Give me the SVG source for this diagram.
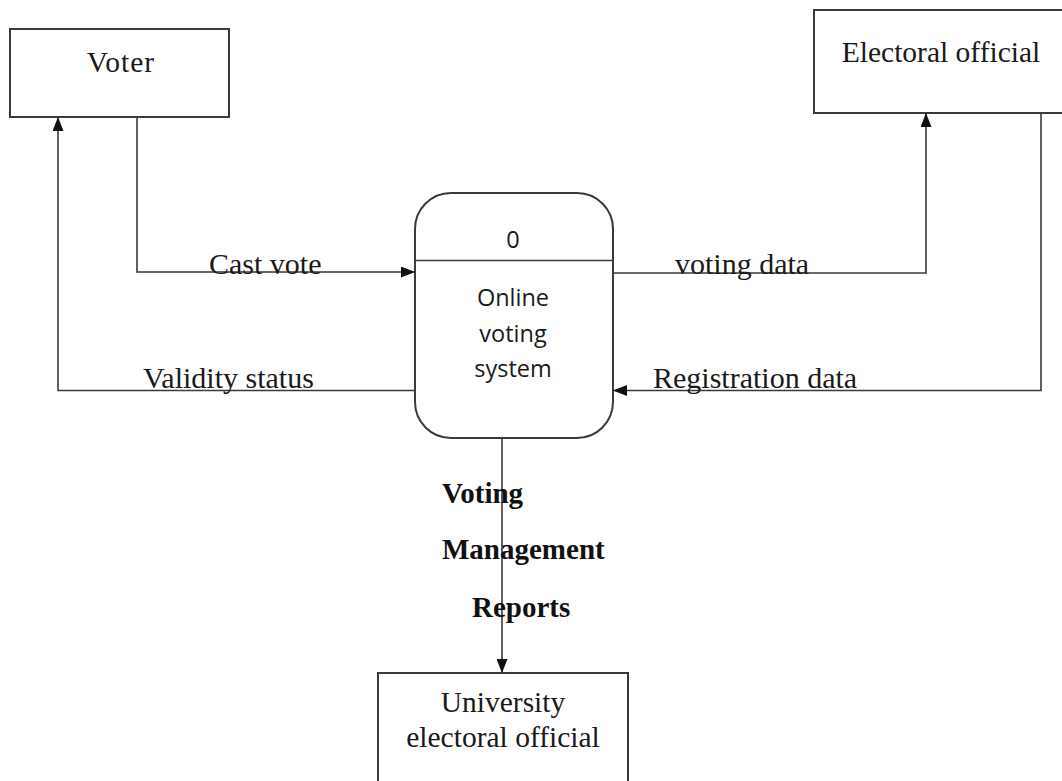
<svg xmlns="http://www.w3.org/2000/svg" width="1062" height="781" viewBox="0 0 1062 781">
  <style>
    .box { fill: #ffffff; stroke: #3a3a3a; stroke-width: 2; }
    .flow { fill: none; stroke: #3a3a3a; stroke-width: 1.6; }
    .ent { font-family: "Liberation Serif", "Times New Roman", serif; font-size: 29.5px; fill: #1a1a1a; text-anchor: middle; }
    .lbl { font-family: "Liberation Serif", "Times New Roman", serif; font-size: 30px; fill: #1a1a1a; }
    .bold { font-family: "Liberation Serif", "Times New Roman", serif; font-size: 29px; font-weight: bold; fill: #111111; }
    .proc { font-family: "Open Sans", "Noto Sans", sans-serif; font-size: 23.5px; fill: #1a1a1a; text-anchor: middle; }
  </style>
  <defs>
    <marker id="arrow" viewBox="0 0 14 11" refX="14" refY="5.5" markerWidth="14" markerHeight="11" markerUnits="userSpaceOnUse" orient="auto">
      <path d="M0,0 L14,5.5 L0,11 Z" fill="#111111"/>
    </marker>
  </defs>

  <!-- external entities -->
  <g id="voter">
    <rect class="box" x="10" y="29" width="219" height="88"/>
    <text class="ent" x="121" y="72" letter-spacing="1">Voter</text>
  </g>
  <g id="electoral-official">
    <rect class="box" x="814" y="10" width="260" height="103"/>
    <text class="ent" x="941" y="62">Electoral official</text>
  </g>
  <g id="university-official">
    <rect class="box" x="378" y="673" width="250" height="130"/>
    <text class="ent" x="503" y="712">University</text>
    <text class="ent" x="503" y="747">electoral official</text>
  </g>

  <!-- process 0 -->
  <g id="process-0">
    <rect class="box" x="415" y="193" width="198" height="245" rx="36" ry="36"/>
    <line class="flow" x1="415" y1="260.5" x2="613" y2="260.5" stroke-width="2"/>
    <text class="proc" x="513" y="248">0</text>
    <text class="proc" x="513" y="306">Online</text>
    <text class="proc" x="513" y="341.5">voting</text>
    <text class="proc" x="513" y="377">system</text>
  </g>

  <!-- data flows -->
  <g id="connectors">
    <polyline class="flow" points="137,117 137,272 415,272" marker-end="url(#arrow)"/>
    <polyline class="flow" points="415,390.5 58,390.5 58,117" marker-end="url(#arrow)"/>
    <polyline class="flow" points="613,273 926,273 926,113" marker-end="url(#arrow)"/>
    <polyline class="flow" points="1041,113 1041,390.5 613,390.5" marker-end="url(#arrow)"/>
    <line class="flow" x1="502" y1="438" x2="502" y2="673" marker-end="url(#arrow)"/>
  </g>

  <!-- flow labels -->
  <g id="labels">
    <text class="lbl" x="209" y="274">Cast vote</text>
    <text class="lbl" x="143" y="388">Validity status</text>
    <text class="lbl" x="675" y="274">voting data</text>
    <text class="lbl" x="653" y="388">Registration data</text>
    <text class="bold" x="442" y="503">Voting</text>
    <text class="bold" x="442" y="559">Management</text>
    <text class="bold" x="472" y="617">Reports</text>
  </g>
</svg>
